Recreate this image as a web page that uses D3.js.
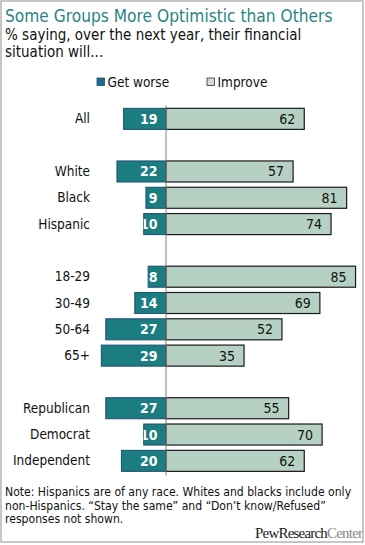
<!DOCTYPE html>
<html>
<head>
<meta charset="utf-8">
<script src="https://cdn.jsdelivr.net/npm/d3@7"></script>
<style>
  body { margin: 0; background: #fff; }
  svg text { font-family: "DejaVu Sans Condensed", "Liberation Sans", sans-serif; }
</style>
</head>
<body>
<svg id="chart" width="365" height="545"></svg>
<script>
// DATA
const groups = ["All", "", "White", "Black", "Hispanic", " ", "18-29", "30-49", "50-64", "65+", "  ", "Republican", "Democrat", "Independent"];
const getWorse = [19, null, 22, 9, 10, null, 8, 14, 27, 29, null, 27, 10, 20];
const improve  = [62, null, 57, 81, 74, null, 85, 69, 52, 35, null, 55, 70, 62];
const seriesNames = ["Get worse", "Improve"];

const rows = groups.map((g, i) => ({ group: g, worse: getWorse[i], better: improve[i] }))
    .filter(d => d.worse != null);

// colours
const worseFill = "#1b7d80", worseStroke = "#1d4f75";
const betterFill = "#b6d1c3", betterStroke = "#1a1a1a";
const teal = "#2a8482";

const svg = d3.select("#chart");

// frame
svg.append("rect")
    .attr("x", 1).attr("y", 1)
    .attr("width", 362).attr("height", 541)
    .attr("fill", "none")
    .attr("stroke", "#b4b4b4")
    .attr("stroke-width", 1.5);

// title
svg.append("text")
    .attr("x", 5).attr("y", 21.5)
    .attr("fill", teal)
    .attr("font-size", 17.2)
    .text("Some Groups More Optimistic than Others");

svg.append("text")
    .attr("x", 5).attr("y", 40)
    .attr("font-size", 15)
    .attr("fill", "#111")
    .text("% saying, over the next year, their financial");

svg.append("text")
    .attr("x", 5).attr("y", 56.5)
    .attr("font-size", 15)
    .attr("fill", "#111")
    .text("situation will...");

// SCALES
const x = d3.scaleLinear()
    .domain([-30, 90])
    .range([166 - 30 * 2.23, 166 + 90 * 2.23]);

const y = d3.scaleBand()
    .domain(groups)
    .range([105.7, 474])
    .paddingInner(0.2)
    .paddingOuter(0.1);

// legend
const legend = svg.append("g");
const legendX = [97, 207];
seriesNames.forEach((name, i) => {
    legend.append("rect")
        .attr("x", legendX[i]).attr("y", 78)
        .attr("width", 7.5).attr("height", 7.5)
        .attr("fill", i === 0 ? "#1f6b8a" : "#cfd8d3")
        .attr("stroke", i === 0 ? "#1d4f75" : "#333")
        .attr("stroke-width", 0.8);
    legend.append("text")
        .attr("x", legendX[i] + 10.5).attr("y", 86.5)
        .attr("font-size", 13.5)
        .attr("fill", "#111")
        .text(name);
});

// BARS
const bars = svg.append("g");

bars.selectAll(".worse")
    .data(rows)
    .enter()
    .append("rect")
    .attr("class", "worse")
    .attr("x", d => x(-d.worse))
    .attr("y", d => y(d.group))
    .attr("width", d => x(0) - x(-d.worse))
    .attr("height", y.bandwidth())
    .attr("fill", worseFill)
    .attr("stroke", worseStroke)
    .attr("stroke-width", 1);

bars.selectAll(".better")
    .data(rows)
    .enter()
    .append("rect")
    .attr("class", "better")
    .attr("x", x(0))
    .attr("y", d => y(d.group))
    .attr("width", d => x(d.better) - x(0))
    .attr("height", y.bandwidth())
    .attr("fill", betterFill)
    .attr("stroke", betterStroke)
    .attr("stroke-width", 1.2);

// clip for worse labels so they stay inside their bars
const defs = svg.append("defs");
rows.forEach((d, i) => {
    defs.append("clipPath").attr("id", "c" + i)
        .append("rect")
        .attr("x", x(-d.worse))
        .attr("y", y(d.group))
        .attr("width", x(0) - x(-d.worse))
        .attr("height", y.bandwidth());
});

bars.selectAll(".worseLabel")
    .data(rows)
    .enter()
    .append("text")
    .attr("class", "worseLabel")
    .attr("clip-path", (d, i) => `url(#c${i})`)
    .attr("x", x(0) - 8.5)
    .attr("y", d => y(d.group) + y.bandwidth() / 2 + 5)
    .attr("text-anchor", "end")
    .attr("font-size", 14)
    .attr("font-weight", "bold")
    .attr("fill", "#fff")
    .text(d => d.worse);

bars.selectAll(".betterLabel")
    .data(rows)
    .enter()
    .append("text")
    .attr("class", "betterLabel")
    .attr("x", d => x(d.better) - 9)
    .attr("y", d => y(d.group) + y.bandwidth() / 2 + 5)
    .attr("text-anchor", "end")
    .attr("font-size", 14)
    .attr("fill", "#111")
    .text(d => d.better);

// category labels
svg.append("g").selectAll("text")
    .data(rows)
    .enter()
    .append("text")
    .attr("x", 90)
    .attr("y", d => y(d.group) + y.bandwidth() / 2 + 4.5)
    .attr("text-anchor", "end")
    .attr("font-size", 13.5)
    .attr("fill", "#111")
    .text(d => d.group);

// zero line
svg.append("line")
    .attr("x1", x(0)).attr("x2", x(0))
    .attr("y1", 105.5).attr("y2", 475.5)
    .attr("stroke", "#808080")
    .attr("stroke-width", 1);

// note
const noteLines = [
    "Note: Hispanics are of any race. Whites and blacks include only",
    "non-Hispanics. \u201CStay the same\u201D and \u201CDon\u2019t know/Refused\u201D",
    "responses not shown."
];
svg.append("g").selectAll("text")
    .data(noteLines)
    .enter()
    .append("text")
    .attr("x", 5)
    .attr("y", (d, i) => 496 + i * 13.5)
    .attr("font-size", 12.1)
    .attr("fill", "#111")
    .text(d => d);

// source logo
const logo = svg.append("text")
    .attr("x", 255).attr("y", 538)
    .attr("font-size", 15)
    .attr("letter-spacing", -0.8)
    .style("font-family", "'Liberation Serif', 'DejaVu Serif', serif");
logo.append("tspan").attr("fill", "#222").text("PewResearch");
logo.append("tspan").attr("fill", "#888").text("Center");
</script>
</body>
</html>
